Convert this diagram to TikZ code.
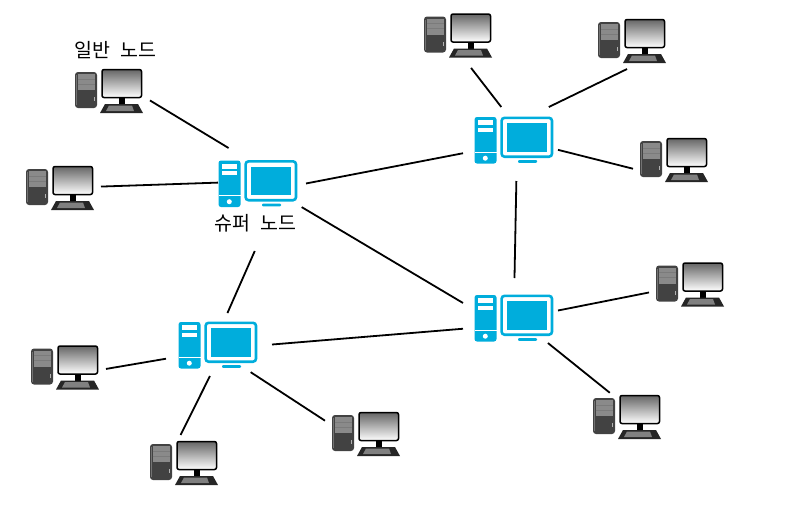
\documentclass[tikz,border=0pt]{standalone}
\usepackage{fontspec}
\usepackage{xcolor}
\newfontfamily\korfont[WordSpace=2.4]{Noto Sans CJK KR}
\definecolor{hubblue}{HTML}{00ADDC}
\definecolor{pcdark}{HTML}{424242}
\definecolor{pcpanel}{HTML}{8A8A8A}

\tikzset{
  pcplain/.pic={
    \fill[pcdark, rounded corners=3pt] (-34,-19) rectangle (-12,17);
    \fill[black!55] (-33.5,-16) rectangle (-32,14);
    \fill[pcpanel] (-31.5,-17) rectangle (-14.5,-1);
    \draw[pcdark!70, line width=.6pt] (-31.5,-12) -- (-14.5,-12) (-31.5,-7) -- (-14.5,-7);
    \fill[black!30] (-15.5,6) rectangle (-14,10);
    \fill[black] (10,5) rectangle (16,14);
    \draw[black, line width=1.5pt, rounded corners=2pt, top color=black!60, bottom color=white] (-7,-21.5) rectangle (32.5,6.5);
    \fill[black!85] (-4,13) -- (29,13) -- (34,22) -- (-9,22) -- cycle;
    \fill[black!50] (0,14.5) -- (23,14.5) -- (25,20) -- (-3,20) -- cycle;
  },
  pchub/.pic={
    \fill[hubblue, rounded corners=2.5pt] (-39.5,-23) rectangle (-17.5,23.5);
    \fill[white] (-36.3,-20) rectangle (-20.7,-15);
    \fill[white] (-36.3,-12.5) rectangle (-20.7,-8.5);
    \fill[white] (-39.5,11.8) rectangle (-17.5,12.8);
    \fill[white] (-28.7,18.2) circle (2.5);
    \draw[hubblue, line width=2.6pt, rounded corners=3pt] (-12.4,-22.2) rectangle (38,16.7);
    \fill[hubblue] (-7.3,-16.8) rectangle (33.3,11.5);
    \fill[hubblue, rounded corners=1pt] (4,20) rectangle (23,22.8);
  },
}

\begin{document}
\begin{tikzpicture}[x=1pt, y=-1pt,
  pcbox/.style={minimum width=82pt, minimum height=56pt, inner sep=0pt, outer sep=0pt},
  hubbox/.style={inner sep=0pt, outer sep=0pt},
  caption/.style={font=\korfont\fontsize{19.5}{22}\selectfont, inner sep=0pt},
  link/.style={black, line width=1.8pt}]

\useasboundingbox (0,0) rectangle (800,507);

\node[hubbox, minimum width=88pt, minimum height=103pt] (hubA) at (262,199.5) {};
\node[hubbox, minimum width=95pt, minimum height=74pt] (hubB) at (510.5,144) {};
\node[hubbox, minimum width=95pt, minimum height=65pt] (hubC) at (510.5,310.5) {};
\node[hubbox, minimum width=106pt, minimum height=63pt] (hubD) at (219,344.5) {};

\node[pcbox] (pcA) at (109,91) {};
\node[pcbox] (pcB) at (60,188) {};
\node[pcbox] (pcC) at (458,35.5) {};
\node[pcbox] (pcD) at (632,41) {};
\node[pcbox] (pcE) at (674,160) {};
\node[pcbox] (pcF) at (690,284.5) {};
\node[pcbox] (pcG) at (627,417) {};
\node[pcbox] (pcH) at (366,434) {};
\node[pcbox] (pcI) at (184,463) {};
\node[pcbox] (pcJ) at (65,367.5) {};

\pic at (258,183.5) {pchub};
\pic at (514,140) {pchub};
\pic at (514,318) {pchub};
\pic at (218,345) {pchub};

\pic at (pcA) {pcplain};
\pic at (pcB) {pcplain};
\pic at (pcC) {pcplain};
\pic at (pcD) {pcplain};
\pic at (pcE) {pcplain};
\pic at (pcF) {pcplain};
\pic at (pcG) {pcplain};
\pic at (pcH) {pcplain};
\pic at (pcI) {pcplain};
\pic at (pcJ) {pcplain};

\node[caption] (plainlabel) at (115.5,50) {일반 노드};
\node[caption] (hublabel) at (255.5,223) {슈퍼 노드};

\draw[link] (pcA.-13.7) -- (hubA.123.4);
\draw[link] (pcB.2.8) -- (hubA.159.4);
\draw[link] (hubA.20.6) -- (hubB.-169.3);
\draw[link, shorten <=-5pt] (hubA.-13.9) -- (hubC.171);
\draw[link] (hubA.-98.8) -- (hubD.75.8);
\draw[link] (hubB.-81.5) -- (hubC.83.9);
\draw[link] (hubD.-0.5) -- (hubC.-159.8);
\draw[link, shorten <=5.6pt] (pcC.-71.3) -- (hubB.104.4);
\draw[link] (pcD.-100) -- (hubB.44.6);
\draw[link] (pcE.-168.7) -- (hubB.-7.2);
\draw[link] (pcF.-169.9) -- (hubC.0.6);
\draw[link, shorten <=-6pt] (pcG.128.2) -- (hubC.-41.7);
\draw[link, shorten >=-7pt] (pcH.162.4) -- (hubD.-40.4);
\draw[link] (pcI.97.1) -- (hubD.-106);
\draw[link] (pcJ.-2.4) -- (hubD.-165.7);
\end{tikzpicture}
\end{document}
